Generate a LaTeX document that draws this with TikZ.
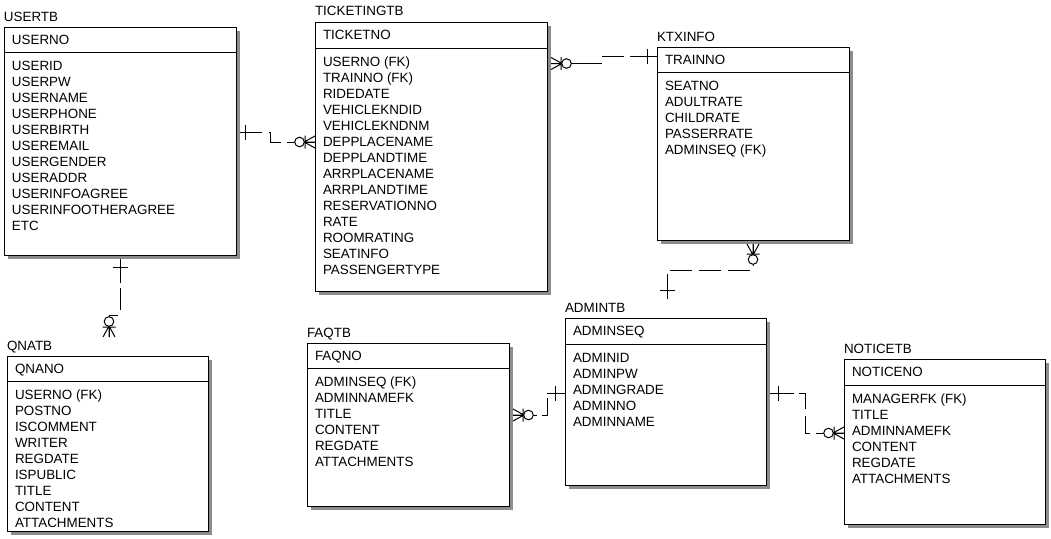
\documentclass[tikz,border=0pt]{standalone}
\usepackage{fontspec}
\setmainfont{Liberation Sans}
\usetikzlibrary{calc}
\tikzset{
  txt/.style={anchor=base west, inner sep=0pt, outer sep=0pt, font=\fontsize{13.4}{16}\selectfont},
  tblbox/.style={draw, line width=1pt, fill=white, inner sep=0pt, outer sep=0pt},
  shadowfill/.style={fill=black!45},
  conn/.style={line width=1pt, dash pattern=on 22pt off 7pt},
  solidend/.style={line width=1pt},
  pics/crow/.style={code={
    \draw[line width=1pt] (-11,0) -- (0,6) (-11,0) -- (0,0) (-11,0) -- (0,-6) (-10,-6.5) -- (-10,6.5);
    \draw[line width=1pt, fill=white] (-15.5,0) circle[radius=4.8pt];
  }},
  pics/onebar/.style={code={
    \draw[line width=1pt] (-#1,-7.5) -- (-#1,7.5);
  }}
}
\newcommand\ertab[9]{%
  \fill[shadowfill] (#2+4,#3+4) rectangle ++(#4,#6);
  \node[tblbox, minimum width=#4pt, minimum height=#6pt, anchor=north west] (#1) at (#2,#3) {};
  \draw[line width=1pt] (#2,#3+#5) -- ++(#4,0);
  \node[txt] (#1-t) at (#2,#3-6) {#7};
  \node[txt] (#1-h) at (#2+8,#3+#5/2+4.5) {#8};
  \foreach \f [count=\i] in {#9} {\node[txt] (#1-\i) at (#2+8,#3+#5+18+16*\i-16) {\f};}%
}
\begin{document}
\begin{tikzpicture}[x=1pt,y=-1pt]
\useasboundingbox[fill=white] (0,0) rectangle (1051,538);

\ertab{user}{4}{27}{232}{25}{228}{USERTB}{USERNO}{USERID,USERPW,USERNAME,USERPHONE,USERBIRTH,USEREMAIL,USERGENDER,USERADDR,USERINFOAGREE,USERINFOOTHERAGREE,ETC}
\ertab{tick}{315}{22}{232}{26}{269}{TICKETINGTB}{TICKETNO}{USERNO (FK),TRAINNO (FK),RIDEDATE,VEHICLEKNDID,VEHICLEKNDNM,DEPPLACENAME,DEPPLANDTIME,ARRPLACENAME,ARRPLANDTIME,RESERVATIONNO,RATE,ROOMRATING,SEATINFO,PASSENGERTYPE}
\ertab{ktx}{657}{47}{192}{25}{193}{KTXINFO}{TRAINNO}{SEATNO,ADULTRATE,CHILDRATE,PASSERRATE,ADMINSEQ (FK)}
\ertab{qna}{7}{356}{201}{25}{175}{QNATB}{QNANO}{USERNO (FK),POSTNO,ISCOMMENT,WRITER,REGDATE,ISPUBLIC,TITLE,CONTENT,ATTACHMENTS}
\ertab{faq}{307}{343}{202}{25}{163}{FAQTB}{FAQNO}{ADMINSEQ (FK),ADMINNAMEFK,TITLE,CONTENT,REGDATE,ATTACHMENTS}
\ertab{admin}{565}{318}{201}{26}{167}{ADMINTB}{ADMINSEQ}{ADMINID,ADMINPW,ADMINGRADE,ADMINNO,ADMINNAME}
\ertab{notice}{844}{359}{201}{26}{165}{NOTICETB}{NOTICENO}{MANAGERFK (FK),TITLE,ADMINNAMEFK,CONTENT,REGDATE,ATTACHMENTS}

% connector endpoints
\coordinate (c1s) at ($(user.east |- 0,132)+(4,0)$);
\coordinate (c1e) at (tick.west |- 0,142);
\coordinate (c2s) at ($(tick.east |- 0,63.5)+(4,0)$);
\coordinate (c2e) at (ktx.west |- 0,56);
\coordinate (c3s) at ($(ktx.south)+(0,4)$);
\coordinate (c3e) at ($(admin.north)+(1.5,-19)$);
\coordinate (c4s) at ($(user.south)+(0,4)$);
\coordinate (c4e) at ($(qna.north)+(1.5,-19)$);
\coordinate (c5s) at ($(faq.east |- 0,415)+(4,0)$);
\coordinate (c5e) at (admin.west |- 0,393);
\coordinate (c6s) at ($(admin.east |- 0,393)+(4,0)$);
\coordinate (c6e) at (notice.west |- 0,433);

% USERTB -> TICKETINGTB
\draw[conn] (c1s) -- ++(30,0) |- (c1e);
\draw[solidend] (c1s) -- ++(22,0) (c1e) -- ++(-28,0);
\pic[rotate=180] at (c1s) {onebar=5};
\pic at (c1e) {crow};

% TICKETINGTB -> KTXINFO
\draw[conn] (c2s) -- ++(51,0) |- (c2e);
\draw[solidend] (c2s) -- ++(32,0) (c2e) -- ++(-27,0);
\pic[rotate=180] at (c2s) {crow};
\pic at (c2e) {onebar=10};

% KTXINFO -> ADMINTB
\draw[conn] (c3s) -- ++(0,26) -| (c3e);
\draw[solidend] (c3s) -- ++(0,22) (c3e) -- ++(0,-24);
\pic[rotate=90] at (c3s) {crow};
\pic[rotate=-90] at (c3e) {onebar=9};

% USERTB -> QNATB
\draw[conn] (c4s) -- ++(0,56) -| (c4e);
\draw[solidend] (c4s) -- ++(0,24) (c4e) -- ++(0,-22);
\pic[rotate=90] at (c4s) {onebar=8};
\pic[rotate=-90] at (c4e) {crow};

% FAQTB -> ADMINTB
\draw[conn] (c5s) -- ++(34,0) |- (c5e);
\draw[solidend] (c5s) -- ++(24,0) (c5e) -- ++(-18,0);
\pic[rotate=180] at (c5s) {crow};
\pic at (c5e) {onebar=10};

% ADMINTB -> NOTICETB
\draw[conn] (c6s) -- ++(35,0) |- (c6e);
\draw[solidend] (c6s) -- ++(24,0) (c6e) -- ++(-28,0);
\pic[rotate=180] at (c6s) {onebar=8};
\pic at (c6e) {crow};
\end{tikzpicture}
\end{document}
